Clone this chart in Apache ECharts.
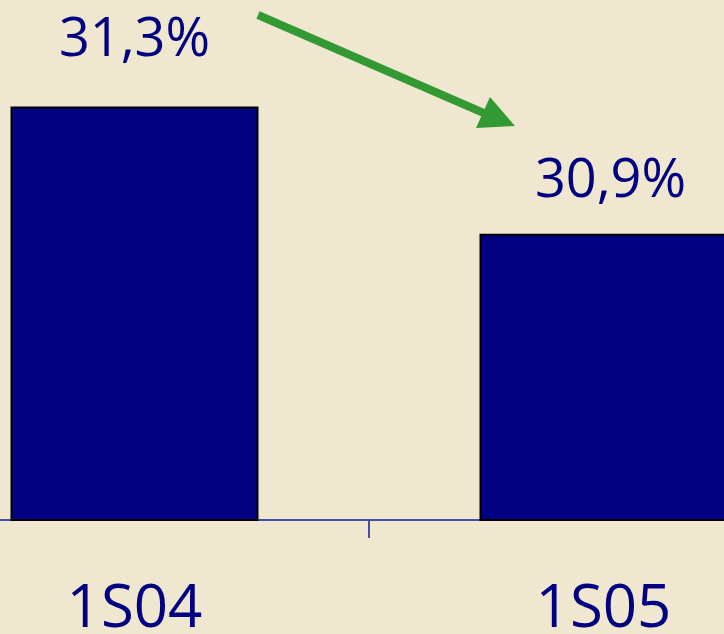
<!DOCTYPE html>
<html>
<head>
<meta charset="utf-8">
<script src="https://cdn.jsdelivr.net/npm/echarts@6/dist/echarts.min.js"></script>
<style>
  html, body { margin: 0; padding: 0; background: #f0e7d1; overflow: hidden; }
  /* the chart is wider than the window: the outer halves of the categories are cut off */
  #chart { position: absolute; left: -100px; top: 0; width: 938px; height: 634px; }
</style>
</head>
<body>
<div id="chart"></div>
<script>
// semestres et taux
const periods = ['1S04', '1S05'];
const rates = [31.3, 30.9];

const navy = '#000080';
const chart = echarts.init(document.getElementById('chart'));

// second label sits a bit lower and to the right in the original
const labelShift = [{}, { offset: [7, 14] }];

chart.setOption({
  backgroundColor: '#f0e7d1',
  animation: false,
  grid: { left: 0, right: 0, top: 0, bottom: 114, outerBoundsMode: 'none' },
  xAxis: {
    type: 'category',
    data: periods,
    axisLine: { lineStyle: { color: '#4b4ba8', width: 2 } },
    axisTick: { show: true, length: 18, lineStyle: { color: '#4b4ba8', width: 2 } },
    axisLabel: {
      color: navy,
      fontFamily: 'Open Sans',
      fontSize: 60,
      margin: 60
    }
  },
  yAxis: {
    type: 'value',
    min: 30,
    max: 31.635,
    show: false
  },
  series: [{
    type: 'bar',
    data: rates.map((v, i) => ({ value: v, label: labelShift[i] })),
    barWidth: 248,
    itemStyle: { color: navy, borderColor: '#000', borderWidth: 2 },
    label: {
      show: true,
      position: 'top',
      distance: 39,
      color: navy,
      fontFamily: 'Open Sans',
      fontSize: 54,
      formatter: p => p.value.toFixed(1).replace('.', ',') + '%'
    }
  }],
  graphic: [
    {
      type: 'line',
      shape: { x1: 358, y1: 15, x2: 586, y2: 114 },
      style: { stroke: '#339933', lineWidth: 8 }
    },
    {
      type: 'polygon',
      shape: { points: [[590, 97], [615, 126], [576, 128]] },
      style: { fill: '#339933' }
    }
  ]
});
</script>
</body>
</html>
